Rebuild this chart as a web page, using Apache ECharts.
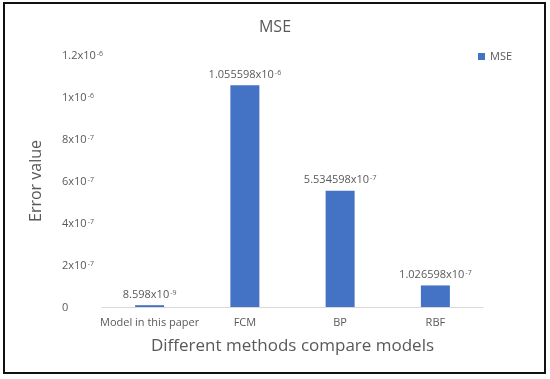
<!DOCTYPE html>
<html>
<head>
<meta charset="utf-8">
<script src="https://cdn.jsdelivr.net/npm/echarts@6/dist/echarts.min.js"></script>
<style>
html,body{margin:0;padding:0;background:#fff;}
#c{width:550px;height:379px;}
</style>
</head>
<body>
<div id="c"></div>
<script>
const categories = ['Model in this paper', 'FCM', 'BP', 'RBF'];
const mseValues = [8.598e-9, 1.055598e-6, 5.534598e-7, 1.026598e-7];
const yTickLabels = ['0', '2x10^-7', '4x10^-7', '6x10^-7', '8x10^-7', '1x10^-6', '1.2x10^-6'];
const seriesName = 'MSE';

const TXT = '#595959';
const FONT = '"Open Sans", "Noto Sans", sans-serif';

function richSci(s) {
  const p = s.split('^');
  if (p.length < 2) return '{b|' + p[0] + '}';
  return '{b|' + p[0] + '}{s|' + p[1] + '}';
}
function sciString(v) {
  const e = Math.floor(Math.log10(v));
  const m = parseFloat((v / Math.pow(10, e)).toPrecision(7));
  return m + 'x10^' + e;
}
const richStyles = {
  b: {fontSize: 11, color: TXT, fontFamily: FONT, lineHeight: 13, verticalAlign: 'bottom'},
  s: {fontSize: 7, color: TXT, fontFamily: FONT, lineHeight: 11, verticalAlign: 'bottom', padding: [0, 0, 4, 1]}
};

const chart = echarts.init(document.getElementById('c'), null, {renderer: 'canvas'});
chart.setOption({
  animation: false,
  backgroundColor: '#fff',
  title: {
    text: 'MSE',
    left: 'center',
    top: 14,
    textStyle: {color: TXT, fontFamily: FONT, fontSize: 16, fontWeight: 'normal'}
  },
  legend: {
    left: 473,
    top: 46,
    itemWidth: 7,
    itemHeight: 7,
    itemGap: 4,
    icon: 'rect',
    textStyle: {color: TXT, fontFamily: FONT, fontSize: 11},
    data: [seriesName]
  },
  grid: {left: 102, right: 67, top: 55, bottom: 72, containLabel: false},
  xAxis: {
    type: 'category',
    data: categories,
    name: 'Different methods compare models',
    nameLocation: 'middle',
    nameGap: 31,
    nameTextStyle: {color: TXT, fontFamily: FONT, fontSize: 17},
    axisLine: {lineStyle: {color: '#d9d9d9', width: 1}},
    axisTick: {show: false},
    axisLabel: {color: TXT, fontFamily: FONT, fontSize: 11, margin: 10, interval: 0}
  },
  yAxis: {
    type: 'value',
    min: 0,
    max: 1.2e-6,
    interval: 2e-7,
    name: 'Error value',
    nameLocation: 'middle',
    nameGap: 58,
    nameTextStyle: {color: TXT, fontFamily: FONT, fontSize: 16},
    axisLine: {show: false},
    axisTick: {show: false},
    splitLine: {show: false},
    axisLabel: {
      align: 'left',
      margin: 40,
      formatter: function (v) {
        const i = Math.round(v / 2e-7);
        return richSci(yTickLabels[i] || '');
      },
      rich: richStyles
    }
  },
  series: [{
    name: seriesName,
    type: 'bar',
    data: mseValues,
    barWidth: 29,
    itemStyle: {color: '#4472C4'},
    label: {
      show: true,
      position: 'top',
      distance: 5,
      formatter: function (p) { return richSci(sciString(p.value)); },
      rich: richStyles
    }
  }],
  graphic: [{
    type: 'rect',
    shape: {x: 4, y: 3, width: 541, height: 370},
    style: {fill: 'none', stroke: '#111', lineWidth: 2},
    silent: true
  }]
});
</script>
</body>
</html>
